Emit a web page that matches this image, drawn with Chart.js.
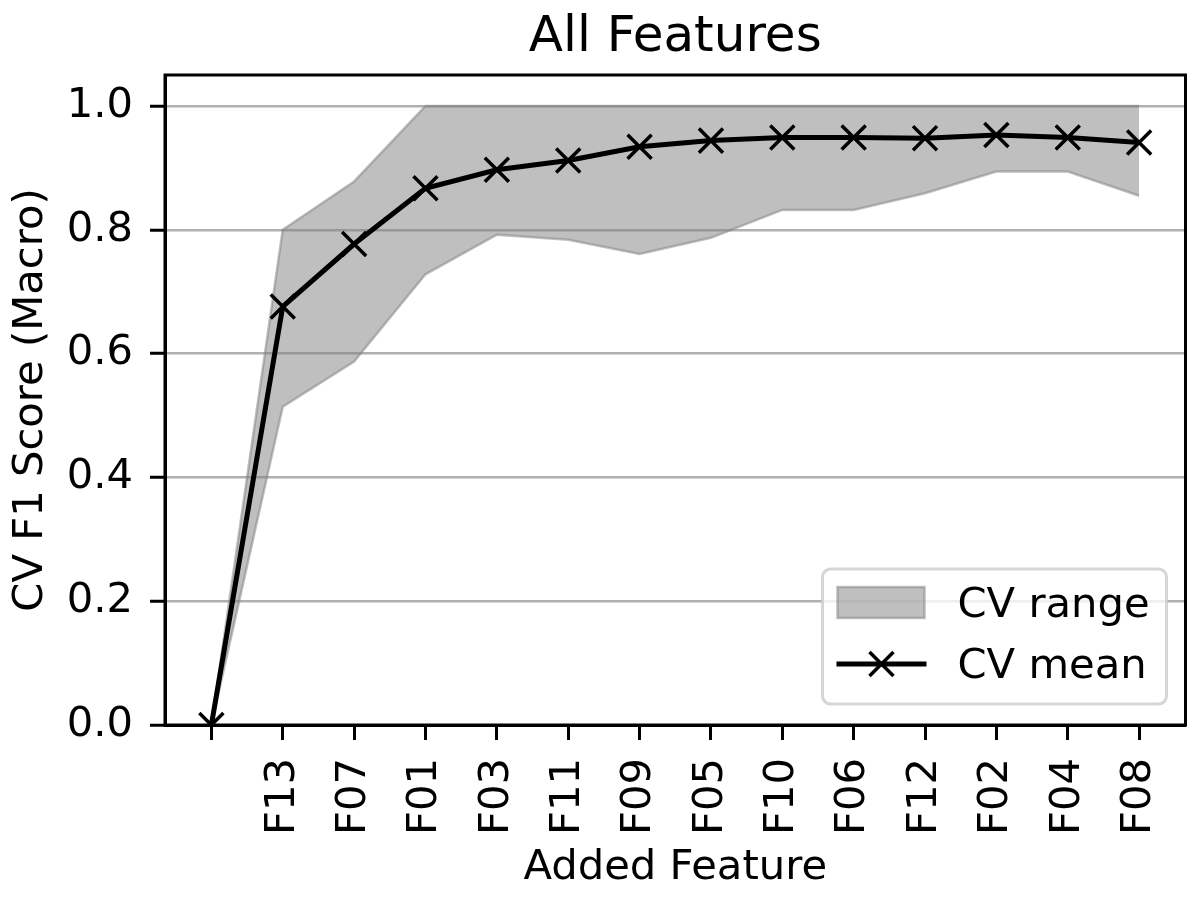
<!DOCTYPE html>
<html>
<head>
<meta charset="utf-8">
<script src="https://cdn.jsdelivr.net/npm/chart.js@4.4.1/dist/chart.umd.min.js"></script>
<style>
  html, body { margin: 0; padding: 0; background: #ffffff; overflow: hidden; }
  #wrap { width: 1200px; height: 900px; overflow: hidden; }
</style>
</head>
<body>
<div id="wrap"><canvas id="c" width="1206" height="900"></canvas></div>
<script>
// ---- data ----
const featureLabels = ['', 'F13', 'F07', 'F01', 'F03', 'F11', 'F09', 'F05', 'F10', 'F06', 'F12', 'F02', 'F04', 'F08'];
const cvMean  = [0.000, 0.676, 0.777, 0.867, 0.897, 0.912, 0.934, 0.944, 0.949, 0.949, 0.948, 0.953, 0.949, 0.941];
const cvUpper = [0.000, 0.800, 0.878, 1.000, 1.000, 1.000, 1.000, 1.000, 1.000, 1.000, 1.000, 1.000, 1.000, 1.000];
const cvLower = [0.000, 0.514, 0.587, 0.728, 0.792, 0.784, 0.761, 0.787, 0.832, 0.832, 0.859, 0.894, 0.894, 0.855];
const yTickValues = [0.0, 0.2, 0.4, 0.6, 0.8, 1.0];
const chartTitle = 'All Features';
const xTitle = 'Added Feature';
const yTitle = 'CV F1 Score (Macro)';
const rangeLabel = 'CV range';
const meanLabel = 'CV mean';

const FONT = "'DejaVu Sans', 'Liberation Sans', sans-serif";
const TICK_PX = 41.7;
const BAND = 'rgba(128,128,128,0.5)';

const toPts = arr => arr.map((v, i) => ({ x: i, y: v }));

// title centred over the axes, frame, and in-axes legend (matplotlib style)
const framePlugin = {
  id: 'frameAndLegend',
  afterDraw(chart) {
    const { ctx, chartArea: a } = chart;
    ctx.save();
    ctx.fillStyle = '#000';
    ctx.font = '50px ' + FONT;
    ctx.textAlign = 'center';
    ctx.textBaseline = 'alphabetic';
    ctx.fillText(chartTitle, (a.left + a.right) / 2, a.top - 24);
    ctx.restore();
  },
  afterDatasetsDraw(chart) {
    const { ctx, chartArea: a } = chart;
    ctx.save();
    // axes frame
    ctx.strokeStyle = '#000';
    ctx.lineWidth = 3;
    ctx.strokeRect(a.left, a.top, a.right - a.left, a.bottom - a.top);

    // legend box (lower right)
    const bx = a.right - 363, by = a.bottom - 156, bw = 344, bh = 135, r = 8;
    ctx.beginPath();
    ctx.moveTo(bx + r, by);
    ctx.arcTo(bx + bw, by, bx + bw, by + bh, r);
    ctx.arcTo(bx + bw, by + bh, bx, by + bh, r);
    ctx.arcTo(bx, by + bh, bx, by, r);
    ctx.arcTo(bx, by, bx + bw, by, r);
    ctx.closePath();
    ctx.fillStyle = 'rgba(255,255,255,0.8)';
    ctx.fill();
    ctx.strokeStyle = 'rgba(204,204,204,0.8)';
    ctx.lineWidth = 3;
    ctx.stroke();

    const dsBand = chart.data.datasets[1];
    const dsMean = chart.data.datasets[0];
    // band patch
    ctx.fillStyle = dsBand.backgroundColor;
    ctx.fillRect(bx + 15, by + 18, 87, 31);
    ctx.strokeStyle = dsBand.borderColor;
    ctx.lineWidth = 2.5;
    ctx.strokeRect(bx + 15, by + 18, 87, 31);
    // mean line + marker
    const ly = by + 95, cx = bx + 59;
    ctx.strokeStyle = dsMean.borderColor;
    ctx.lineWidth = dsMean.borderWidth;
    ctx.beginPath(); ctx.moveTo(bx + 14, ly); ctx.lineTo(bx + 104, ly); ctx.stroke();
    ctx.lineWidth = dsMean.pointBorderWidth;
    const d = 12;
    ctx.beginPath();
    ctx.moveTo(cx - d, ly - d); ctx.lineTo(cx + d, ly + d);
    ctx.moveTo(cx - d, ly + d); ctx.lineTo(cx + d, ly - d);
    ctx.stroke();
    // texts
    ctx.fillStyle = '#000';
    ctx.font = TICK_PX + 'px ' + FONT;
    ctx.textAlign = 'left';
    ctx.textBaseline = 'alphabetic';
    ctx.fillText(dsBand.label, bx + 135, by + 48);
    ctx.fillText(dsMean.label, bx + 135, by + 109);
    ctx.restore();
  }
};

new Chart(document.getElementById('c'), {
  type: 'line',
  data: {
    datasets: [
      {
        label: meanLabel,
        data: toPts(cvMean),
        borderColor: '#000000',
        backgroundColor: '#000000',
        borderWidth: 5,
        pointStyle: 'crossRot',
        pointRadius: 17,
        pointHoverRadius: 17,
        pointBorderColor: '#000000',
        pointBorderWidth: 3.5,
        fill: false,
        tension: 0,
        clip: 0
      },
      {
        label: rangeLabel,
        data: toPts(cvUpper),
        borderColor: BAND,
        backgroundColor: BAND,
        borderWidth: 2.5,
        pointRadius: 0,
        fill: '+1',
        tension: 0,
        clip: 0
      },
      {
        label: rangeLabel + ' (low)',
        data: toPts(cvLower),
        borderColor: BAND,
        backgroundColor: BAND,
        borderWidth: 2.5,
        pointRadius: 0,
        fill: false,
        tension: 0,
        clip: 0
      }
    ]
  },
  options: {
    responsive: false,
    animation: false,
    devicePixelRatio: 1,
    layout: { padding: { top: 75, right: 0, bottom: 0, left: 0 } },
    plugins: {
      legend: { display: false },
      tooltip: { enabled: false },
      title: { display: false }
    },
    scales: {
      x: {
        type: 'linear',
        min: -0.65,
        max: 13.65,
        afterBuildTicks: s => { s.ticks = featureLabels.map((_, i) => ({ value: i })); },
        afterFit: s => { s.height = 175; s.paddingLeft = 0; s.paddingRight = 0; },
        grid: {
          drawOnChartArea: false,
          drawTicks: true,
          tickLength: 15,
          tickWidth: 3,
          tickColor: '#000'
        },
        border: { display: true, color: '#000', width: 3 },
        ticks: {
          autoSkip: false,
          minRotation: 90,
          maxRotation: 90,
          padding: 18,
          color: '#000',
          font: { family: FONT, size: TICK_PX },
          callback: v => featureLabels[v]
        },
        title: {
          display: true,
          text: xTitle,
          color: '#000',
          font: { family: FONT, size: TICK_PX },
          padding: { top: 0, bottom: 7 }
        }
      },
      y: {
        type: 'linear',
        min: 0,
        max: 1.05,
        afterBuildTicks: s => { s.ticks = yTickValues.map(v => ({ value: v })); },
        afterFit: s => { s.width = 165; s.paddingTop = 0; s.paddingBottom = 0; },
        grid: {
          drawOnChartArea: true,
          color: '#b0b0b0',
          lineWidth: 2.5,
          drawTicks: true,
          tickLength: 15,
          tickWidth: 3,
          tickColor: '#000'
        },
        border: { display: true, color: '#000', width: 3 },
        ticks: {
          padding: 17,
          color: '#000',
          font: { family: FONT, size: TICK_PX },
          callback: v => Number(v).toFixed(1)
        },
        title: {
          display: true,
          text: yTitle,
          color: '#000',
          font: { family: FONT, size: TICK_PX },
          padding: { top: 6, bottom: 0 }
        }
      }
    }
  },
  plugins: [framePlugin]
});
</script>
</body>
</html>
